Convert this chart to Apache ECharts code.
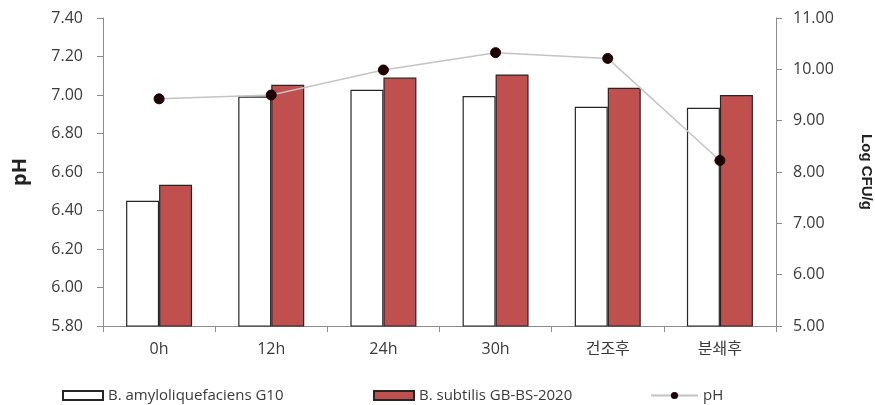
<!DOCTYPE html>
<html>
<head>
<meta charset="utf-8">
<script src="https://cdn.jsdelivr.net/npm/echarts@6/dist/echarts.min.js"></script>
<style>
  html, body { margin: 0; padding: 0; background: #fff; }
  #chart { width: 875px; height: 405px; }
</style>
</head>
<body>
<div id="chart"></div>
<script>
// Sampling stages
const categories = ['0h', '12h', '24h', '30h', '건조후', '분쇄후'];
// Viable counts (Log CFU/g), right axis
const amyloG10 = [7.44, 9.47, 9.60, 9.48, 9.27, 9.25];
const subtilisGB = [7.75, 9.70, 9.84, 9.90, 9.64, 9.50];
// pH, left axis
const phValues = [6.98, 7.00, 7.13, 7.22, 7.19, 6.66];

const seriesNames = ['B. amyloliquefaciens G10', 'B. subtilis GB-BS-2020', 'pH'];

const FONT = '"Open Sans", "Noto Sans CJK KR", sans-serif';
const axisGray = '#8c8c8c';
const textColor = '#3a3a3a';

const chart = echarts.init(document.getElementById('chart'), null, { renderer: 'canvas' });

const legendBase = {
  top: 383,
  itemHeight: 9,
  itemWidth: 40,
  textStyle: { fontFamily: FONT, fontSize: 15, color: textColor },
  selectedMode: false
};

chart.setOption({
  animation: false,
  backgroundColor: '#fff',
  grid: { left: 103, right: 99, top: 18, bottom: 79, containLabel: false, outerBoundsMode: 'none' },
  legend: [
    Object.assign({}, legendBase, { left: 57, icon: 'rect', data: [seriesNames[0]] }),
    Object.assign({}, legendBase, { left: 368, icon: 'rect', data: [seriesNames[1]] }),
    Object.assign({}, legendBase, { left: 645, itemWidth: 47, data: [seriesNames[2]] })
  ],
  xAxis: {
    type: 'category',
    data: categories,
    axisLine: { lineStyle: { color: axisGray, width: 1 } },
    axisTick: { show: true, length: 6, lineStyle: { color: axisGray } },
    axisLabel: { fontFamily: FONT, fontSize: 16, color: textColor, margin: 15 }
  },
  yAxis: [
    {
      type: 'value',
      min: 5.8, max: 7.4, interval: 0.2,
      position: 'left',
      name: 'pH',
      nameLocation: 'middle',
      nameRotate: 90,
      nameGap: 73,
      nameTextStyle: { fontFamily: FONT, fontSize: 20, fontWeight: 'bold', color: '#222' },
      splitLine: { show: false },
      axisLine: { show: true, lineStyle: { color: axisGray } },
      axisTick: { show: true, length: 6, lineStyle: { color: axisGray } },
      axisLabel: {
        fontFamily: FONT, fontSize: 16, color: textColor, margin: 20,
        formatter: v => v.toFixed(2)
      }
    },
    {
      type: 'value',
      min: 5, max: 11, interval: 1,
      position: 'right',
      name: 'Log CFU/g',
      nameLocation: 'middle',
      nameRotate: -90,
      nameGap: 83,
      nameTextStyle: { fontFamily: 'Arial, "Liberation Sans", sans-serif', fontSize: 15, fontWeight: 'bold', color: '#222' },
      splitLine: { show: false },
      axisLine: { show: true, lineStyle: { color: axisGray } },
      axisTick: { show: true, length: 6, lineStyle: { color: axisGray } },
      axisLabel: {
        fontFamily: FONT, fontSize: 16, color: textColor, margin: 17,
        formatter: v => v.toFixed(2)
      }
    }
  ],
  series: [
    {
      name: seriesNames[0],
      type: 'bar',
      yAxisIndex: 1,
      data: amyloG10,
      barWidth: 33,
      barGap: '0%',
      itemStyle: { color: '#ffffff', borderColor: '#262626', borderWidth: 1.2 },
      z: 2
    },
    {
      name: seriesNames[1],
      type: 'bar',
      yAxisIndex: 1,
      data: subtilisGB,
      barWidth: 33,
      barGap: '0%',
      itemStyle: { color: '#c0504d', borderColor: '#262626', borderWidth: 1.2 },
      z: 2
    },
    {
      name: seriesNames[2],
      type: 'line',
      yAxisIndex: 0,
      data: phValues,
      symbol: 'circle',
      symbolSize: 10,
      lineStyle: { color: '#c4c4c4', width: 1.5 },
      itemStyle: { color: '#1e0000', borderColor: '#1e0000' },
      z: 5
    }
  ]
});
</script>
</body>
</html>
